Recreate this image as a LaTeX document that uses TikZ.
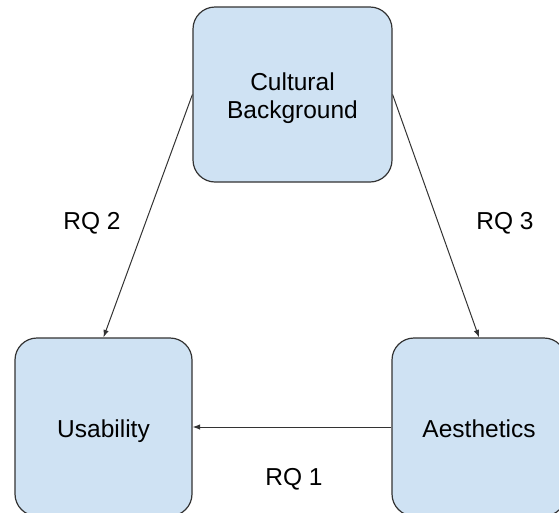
\documentclass[tikz,border=0pt]{standalone}
\usepackage{fontspec}
\setmainfont{Liberation Sans}
\usetikzlibrary{arrows.meta}
\definecolor{boxblue}{HTML}{CFE2F3}
\definecolor{edgegray}{HTML}{333333}
\begin{document}
\begin{tikzpicture}[x=1pt,y=-1pt,
  box/.style={draw=edgegray, line width=1.2pt, fill=boxblue, rounded corners=22pt,
    align=center, font=\fontsize{24.5}{28}\selectfont, inner sep=0pt, text depth=0pt},
  conn/.style={draw=edgegray, line width=1pt, -{Latex[length=7.5pt,width=5.5pt]}},
  lbl/.style={font=\fontsize{24.5}{28}\selectfont, inner sep=0pt}]
\useasboundingbox (0,0) rectangle (559,512);
\clip (0,0) rectangle (559,512);
\node[box, text height=47pt, minimum width=199pt, minimum height=175pt] (cb) at (292.5,94.5) {Cultural\\Background};
\node[box, text height=20pt, minimum width=177pt, minimum height=178pt] (us) at (103.5,427) {Usability};
\node[box, text height=20pt, minimum width=174pt, minimum height=178pt] (ae) at (479,427) {Aesthetics};
\draw[conn] (cb.west) -- (us.north);
\draw[conn] (cb.east) -- (ae.north);
\draw[conn] (ae.west) -- (us.east);
\node[lbl] (rq2) at (92,223) {RQ 2};
\node[lbl] (rq3) at (505,223) {RQ 3};
\node[lbl] (rq1) at (294,479) {RQ 1};
\end{tikzpicture}
\end{document}
